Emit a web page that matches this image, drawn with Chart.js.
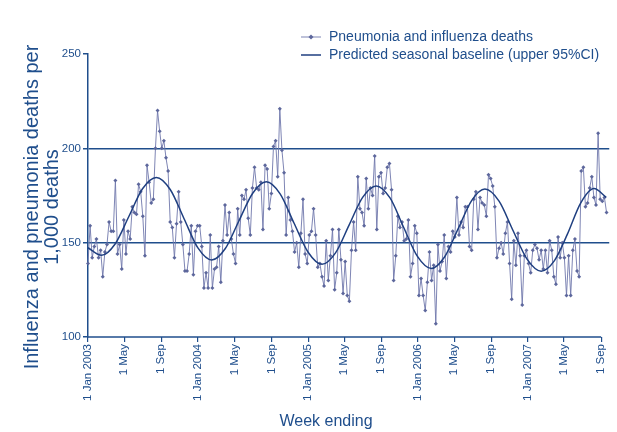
<!DOCTYPE html>
<html>
<head>
<meta charset="utf-8">
<script src="https://cdn.jsdelivr.net/npm/chart.js@4.4.1/dist/chart.umd.min.js"></script>
<style>
  html, body { margin: 0; padding: 0; background: #fff; }
</style>
</head>
<body>
<canvas id="chart" width="617" height="432"></canvas>
<script>
// Colours
const NAVY = '#1f4e8c';
const CURVE = '#1f3f80';
const SERIES_LINE = 'rgba(112, 120, 172, 0.9)';
const SERIES_POINT = '#5d679c';
const FONT = '"Liberation Sans", Arial, sans-serif';

// Weekly pneumonia and influenza deaths per 1,000 deaths, from the week ending 1 Jan 2003
const deaths = [
  139,159,142,148,152,142,146,132,145,149,161,156,156,183,144,149,136,162,144,156,
  152,169,166,165,181,177,164,143,191,182,171,173,200,220,209,200,204,195,188,161,
  158,142,160,177,161,149,135,135,144,159,133,156,159,159,148,126,134,126,154,126,
  136,
  137,148,129,151,170,154,166,152,144,139,168,154,175,173,178,163,154,179,190,179,
  178,182,157,191,189,168,176,201,204,185,221,199,187,154,174,162,156,145,150,137,
  155,173,144,139,154,156,168,154,137,139,132,127,151,130,143,157,125,134,157,141,
  123,
  140,122,119,146,161,146,185,168,166,159,184,168,179,175,196,157,185,187,176,179,
  190,192,178,130,143,164,158,161,151,152,162,132,139,159,155,122,131,122,114,129,
  145,130,138,107,149,135,140,154,131,148,145,156,153,174,154,161,158,169,169,148,
  146,173,
  177,157,174,171,170,164,186,184,180,169,142,147,150,144,155,161,139,120,151,138,
  155,143,117,143,146,139,134,146,149,147,141,146,136,146,134,151,146,132,128,153,
  142,150,142,122,143,122,146,152,135,132,188,190,169,171,179,185,174,170,208,173,
  172,174,166
];

// Predicted seasonal baseline (upper 95% CI): day since 1 Jan 2003 and value
const baselineDays = [
  0, 45, 90, 136, 181, 227, 273, 319, 365, 411, 456, 501, 547, 592, 638, 684, 731, 777,
  822, 867, 912, 957, 1003, 1048, 1094, 1140, 1184, 1229, 1274, 1318, 1365, 1411, 1458,
  1505, 1549, 1592, 1636, 1680, 1721
];
const baselineValues = [
  147.3, 143.3, 149.3, 164.0, 178.6, 184.6, 178.2, 162.7, 147.2, 140.8, 146.9, 161.5,
  176.2, 182.3, 175.9, 160.4, 144.9, 138.5, 144.6, 159.3, 174.0, 180.1, 173.7, 158.2,
  142.7, 136.3, 142.4, 157.3, 172.3, 178.4, 172.0, 156.6, 141.3, 134.9, 140.5, 154.5,
  171.0, 178.7, 174.0
];

// Axis ticks
const tickDates = [
  [2003, 0, 1], [2003, 4, 1], [2003, 8, 1],
  [2004, 0, 1], [2004, 4, 1], [2004, 8, 1],
  [2005, 0, 1], [2005, 4, 1], [2005, 8, 1],
  [2006, 0, 1], [2006, 4, 1], [2006, 8, 1],
  [2007, 0, 1], [2007, 4, 1], [2007, 8, 1]
];
const tickLabels = [
  '1 Jan 2003', '1 May', '1 Sep',
  '1 Jan 2004', '1 May', '1 Sep',
  '1 Jan 2005', '1 May', '1 Sep',
  '1 Jan 2006', '1 May', '1 Sep',
  '1 Jan 2007', '1 May', '1 Sep'
];
const yTicks = [100, 150, 200, 250];
const refLines = [150, 200];

const legendLabels = ['Pneumonia and influenza deaths', 'Predicted seasonal baseline (upper 95%CI)'];
const yTitle = ['Influenza and pneumonia deaths per', '1,000 deaths'];
const xTitle = 'Week ending';

const DAY = 86400000;
const startDate = Date.UTC(2003, 0, 1);
const tickDays = tickDates.map(d => (Date.UTC(d[0], d[1], d[2]) - startDate) / DAY);
const xMax = (Date.UTC(2007, 8, 28) - startDate) / DAY;

// weeks are 7 days apart
const deathPoints = deaths.map((v, i) => ({ x: i * 7, y: v }));
const baselinePoints = baselineDays.map((d, i) => ({ x: d, y: baselineValues[i] }));

// Axis line, titles and legend drawn on top
const extras = {
    id: 'extras',
    afterDraw(chart) {
        const { ctx, chartArea, scales } = chart;
        ctx.save();

        // bottom axis stops at the last tick
        const xEnd = scales.x.getPixelForValue(tickDays[tickDays.length - 1]);
        ctx.strokeStyle = NAVY;
        ctx.lineWidth = 1.5;
        ctx.beginPath();
        ctx.moveTo(chartArea.left, chartArea.bottom);
        ctx.lineTo(xEnd, chartArea.bottom);
        ctx.stroke();

        ctx.fillStyle = NAVY;

        // x title
        ctx.font = '16px ' + FONT;
        ctx.textAlign = 'center';
        ctx.textBaseline = 'middle';
        ctx.fillText(xTitle, 326, 422);

        // y title, two lines
        ctx.save();
        ctx.translate(32, 207);
        ctx.rotate(-Math.PI / 2);
        ctx.font = '20px ' + FONT;
        ctx.fillText(yTitle[0], 0, 0);
        ctx.fillText(yTitle[1], 0, 20);
        ctx.restore();

        // legend
        ctx.font = '14px ' + FONT;
        ctx.textAlign = 'left';
        const lx = 301, tx = 329;
        // row 1
        ctx.strokeStyle = SERIES_LINE;
        ctx.lineWidth = 1;
        ctx.beginPath();
        ctx.moveTo(lx, 37);
        ctx.lineTo(lx + 20, 37);
        ctx.stroke();
        ctx.fillStyle = SERIES_POINT;
        ctx.beginPath();
        ctx.moveTo(lx + 10, 34.5);
        ctx.lineTo(lx + 12.5, 37);
        ctx.lineTo(lx + 10, 39.5);
        ctx.lineTo(lx + 7.5, 37);
        ctx.closePath();
        ctx.fill();
        ctx.fillStyle = NAVY;
        ctx.fillText(legendLabels[0], tx, 37);
        // row 2
        ctx.strokeStyle = CURVE;
        ctx.lineWidth = 1.5;
        ctx.beginPath();
        ctx.moveTo(lx, 55);
        ctx.lineTo(lx + 20, 55);
        ctx.stroke();
        ctx.fillText(legendLabels[1], tx, 55);

        ctx.restore();
    }
};

new Chart(document.getElementById('chart'), {
    type: 'line',
    data: {
        datasets: [
            {
                label: legendLabels[1],
                data: baselinePoints,
                borderColor: CURVE,
                borderWidth: 1.5,
                pointRadius: 0,
                cubicInterpolationMode: 'monotone',
                order: 0,
                clip: false,
            },
            {
                label: legendLabels[0],
                data: deathPoints,
                borderColor: SERIES_LINE,
                borderWidth: 1,
                pointStyle: 'rectRot',
                pointRadius: 2,
                pointBackgroundColor: SERIES_POINT,
                pointBorderWidth: 0,
                tension: 0,
                order: 1,
                clip: false,
            }
        ]
    },
    options: {
        responsive: false,
        animation: false,
        layout: { padding: { top: 54, right: 5, left: 0, bottom: 0 } },
        plugins: {
            legend: { display: false },
            tooltip: { enabled: false },
        },
        scales: {
            x: {
                type: 'linear',
                min: 0,
                max: xMax,
                afterBuildTicks: s => { s.ticks = tickDays.map(v => ({ value: v })); },
                afterFit: s => { s.height = 95; },
                ticks: {
                    autoSkip: false,
                    maxRotation: 90,
                    minRotation: 90,
                    padding: 2,
                    color: NAVY,
                    font: { family: FONT, size: 11.5 },
                    callback: (v, i) => tickLabels[i],
                },
                grid: { drawOnChartArea: false, tickLength: 5, tickColor: NAVY, lineWidth: 1.2 },
                border: { display: false },
            },
            y: {
                min: 100,
                max: 250,
                afterBuildTicks: s => { s.ticks = yTicks.map(v => ({ value: v })); },
                afterFit: s => { s.width = 88; },
                ticks: {
                    padding: 2,
                    color: NAVY,
                    font: { family: FONT, size: 11.5 },
                },
                grid: {
                    color: c => refLines.includes(c.tick && c.tick.value) ? NAVY : 'rgba(0,0,0,0)',
                    lineWidth: 1.5,
                    tickLength: 5,
                    tickColor: NAVY,
                },
                border: { color: NAVY, width: 1.5 },
            }
        }
    },
    plugins: [extras]
});
</script>
</body>
</html>
